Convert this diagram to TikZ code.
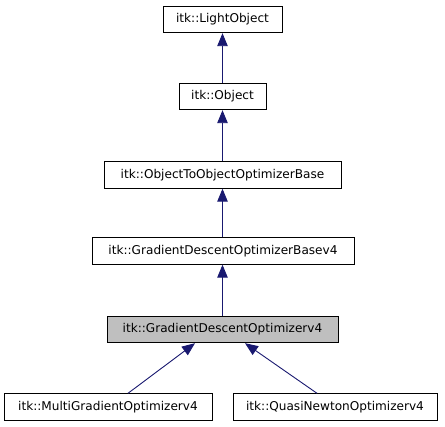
\documentclass[tikz,border=0pt]{standalone}
\usepackage{fontspec}
\setmainfont{DejaVu Sans}
\usetikzlibrary{arrows.meta,positioning}
\definecolor{edgeblue}{HTML}{191970}
\definecolor{boxgray}{HTML}{BFBFBF}

\begin{document}
\begin{tikzpicture}[x=1pt,y=-1pt,
    cls/.style={draw=black, line width=0.9pt, fill=white, minimum height=26.5pt,
        inner sep=0pt, font=\fontsize{12.1}{14}\selectfont},
    inherit/.style={draw=edgeblue, line width=0.9pt, -{Triangle[length=13pt,width=10.5pt]}}]
    \useasboundingbox (0,0) rectangle (445,427);

    % Classes
    \node[cls, minimum width=119pt] (light) at (222.5,19.5) {itk::LightObject};
    \node[cls, minimum width=87pt] (obj) at (222.5,96.5) {itk::Object};
    \node[cls, minimum width=237pt] (o2o) at (222.5,175) {itk::ObjectToObjectOptimizerBase};
    \node[cls, minimum width=262pt] (gdbase) at (223,251) {itk::GradientDescentOptimizerBasev4};
    \node[cls, fill=boxgray, minimum width=231pt] (gd) at (222.5,329.5) {itk::GradientDescentOptimizerv4};
    \node[cls, minimum width=208pt] (multi) at (108,407) {itk::MultiGradientOptimizerv4};
    \node[cls, minimum width=204pt] (quasi) at (335,407) {itk::QuasiNewtonOptimizerv4};

    % Inheritance
    \draw[inherit] (obj) -- (light);
    \draw[inherit] (o2o) -- (obj);
    \draw[inherit] (gdbase.north -| o2o.north) -- (o2o);
    \draw[inherit] (gd.north) -- (gd.north |- gdbase.south);
    \draw[inherit] ([xshift=20pt]multi.north) -- ([xshift=-27.5pt]gd.south);
    \draw[inherit] ([xshift=-18pt]quasi.north) -- ([xshift=22.5pt]gd.south);
\end{tikzpicture}
\end{document}
